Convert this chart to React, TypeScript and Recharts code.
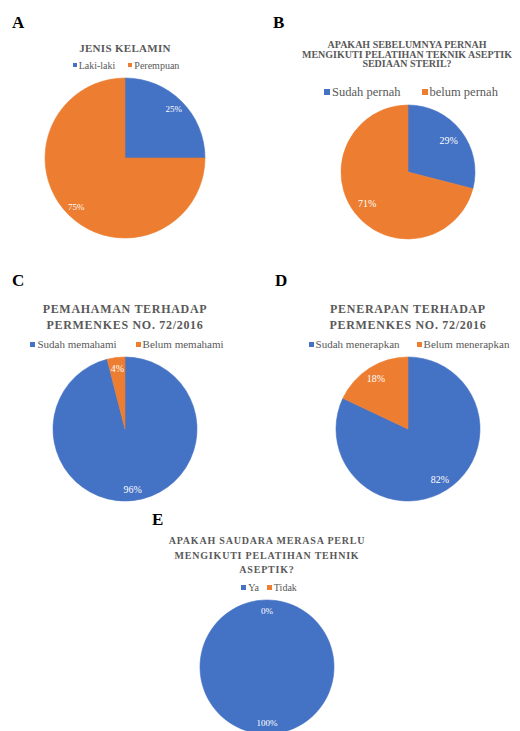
import React from 'react'
import { PieChart, Pie, Cell } from 'recharts'

// warna bawaan Excel
const BLUE = '#4472C4'
const ORANGE = '#ED7D31'
const GREY = '#595959'
const FONT = '"Liberation Serif", "Times New Roman", serif'

// A. Jenis kelamin
const genderLabels = ['Laki-laki', 'Perempuan']
const genderValues = [25, 75]

// B. Pelatihan teknik aseptik sebelumnya
const trainingLabels = ['Sudah pernah', 'belum pernah']
const trainingValues = [29, 71]

// C. Pemahaman Permenkes
const understandLabels = ['Sudah memahami', 'Belum memahami']
const understandValues = [96, 4]

// D. Penerapan Permenkes
const applyLabels = ['Sudah menerapkan', 'Belum menerapkan']
const applyValues = [82, 18]

// E. Perlu pelatihan
const needLabels = ['Ya', 'Tidak']
const needValues = [100, 0]

const RAD = Math.PI / 180

interface PanelProps {
    letter: string
    letterX: number
    letterY: number
    title: string[]
    titleX: number
    titleY: number
    titleSize: number
    titleSpacing: number
    titleLine: number
    names: string[]
    values: number[]
    legendX: number
    legendY: number
    legendSize: number
    legendGap: number
    swatch: number
    cx: number
    cy: number
    r: number
    labelRatio: number
    labelSize: number
}

function PiePanel(p: PanelProps) {
    const data = p.names.map((name, i) => ({ name, value: p.values[i] }))
    const box = p.r * 2 + 12

    const renderLabel = (props: any) => {
        const { cx, cy, midAngle, outerRadius, value } = props
        const d = outerRadius * p.labelRatio
        const x = cx + d * Math.cos(-midAngle * RAD)
        const y = cy + d * Math.sin(-midAngle * RAD)
        return (
            <text
                x={x}
                y={y}
                fill="#fff"
                textAnchor="middle"
                dominantBaseline="central"
                style={{ fontFamily: FONT, fontSize: p.labelSize }}
            >
                {value}%
            </text>
        )
    }

    return (
        <>
            <div style={{ position: 'absolute', left: p.letterX, top: p.letterY - 10, fontSize: 17, lineHeight: '20px', fontWeight: 700, color: '#000', fontFamily: FONT }}>
                {p.letter}
            </div>
            {p.title.map((line, i) => (
                <div
                    key={i}
                    style={{
                        position: 'absolute', left: p.titleX - 150, width: 300, textAlign: 'center',
                        top: p.titleY + i * p.titleLine - 7, lineHeight: '14px', whiteSpace: 'nowrap',
                        fontFamily: FONT, fontSize: p.titleSize, fontWeight: 700, letterSpacing: p.titleSpacing, color: GREY,
                    }}
                >
                    {line}
                </div>
            ))}
            <div
                style={{
                    position: 'absolute', left: p.legendX - 150, width: 300, top: p.legendY - 7, height: 14,
                    display: 'flex', justifyContent: 'center', alignItems: 'center', gap: p.legendGap,
                    fontFamily: FONT, fontSize: p.legendSize, color: GREY, whiteSpace: 'nowrap',
                }}
            >
                {p.names.map((name, i) => (
                    <span key={name} style={{ display: 'flex', alignItems: 'center', gap: 2 }}>
                        <span style={{ width: p.swatch, height: p.swatch, background: i === 0 ? BLUE : ORANGE, display: 'inline-block' }} />
                        {name}
                    </span>
                ))}
            </div>
            <div style={{ position: 'absolute', left: p.cx - box / 2, top: p.cy - box / 2 }}>
                <PieChart width={box} height={box} margin={{ top: 0, right: 0, bottom: 0, left: 0 }}>
                    <Pie
                        data={data}
                        dataKey="value"
                        nameKey="name"
                        cx="50%"
                        cy="50%"
                        outerRadius={p.r}
                        startAngle={90}
                        endAngle={-270}
                        label={renderLabel}
                        labelLine={false}
                        isAnimationActive={false}
                    >
                        {data.map((d, i) => (
                            // stroke in the fill colour so a full circle shows no radius seam
                            <Cell
                                key={d.name}
                                fill={i === 0 ? BLUE : ORANGE}
                                stroke={i === 0 ? BLUE : ORANGE}
                                strokeWidth={d.value === 0 ? 0 : 0.6}
                            />
                        ))}
                    </Pie>
                </PieChart>
            </div>
        </>
    )
}

export default function App() {
    return (
        <div style={{ position: 'absolute', left: 0, top: 0, width: 520, height: 731, background: '#fff', fontFamily: FONT, overflow: 'hidden' }}>
            <PiePanel
                letter="A" letterX={12} letterY={23}
                title={['JENIS KELAMIN']} titleX={125} titleY={48} titleSize={11} titleSpacing={0.3} titleLine={14}
                names={genderLabels} values={genderValues}
                legendX={126} legendY={65} legendSize={10} legendGap={13} swatch={4}
                cx={125} cy={158} r={80} labelRatio={0.86} labelSize={9}
            />
            <PiePanel
                letter="B" letterX={273} letterY={23}
                title={['APAKAH SEBELUMNYA PERNAH', 'MENGIKUTI PELATIHAN TEKNIK ASEPTIK', 'SEDIAAN STERIL?']} titleX={407} titleY={45} titleSize={10} titleSpacing={0} titleLine={9.7}
                names={trainingLabels} values={trainingValues}
                legendX={411} legendY={92} legendSize={12.5} legendGap={21} swatch={6}
                cx={408} cy={172} r={67} labelRatio={0.77} labelSize={10}
            />
            <PiePanel
                letter="C" letterX={12} letterY={281}
                title={['PEMAHAMAN TERHADAP', 'PERMENKES NO. 72/2016']} titleX={125} titleY={309} titleSize={12} titleSpacing={0.7} titleLine={16}
                names={understandLabels} values={understandValues}
                legendX={127} legendY={344} legendSize={11} legendGap={19} swatch={5}
                cx={125} cy={429} r={72} labelRatio={0.85} labelSize={10}
            />
            <PiePanel
                letter="D" letterX={275} letterY={281}
                title={['PENERAPAN TERHADAP', 'PERMENKES NO. 72/2016']} titleX={408} titleY={309} titleSize={12} titleSpacing={0.7} titleLine={16}
                names={applyLabels} values={applyValues}
                legendX={409} legendY={344} legendSize={11} legendGap={17} swatch={5}
                cx={408} cy={429} r={72} labelRatio={0.83} labelSize={10}
            />
            <PiePanel
                letter="E" letterX={152} letterY={520}
                title={['APAKAH SAUDARA MERASA PERLU', 'MENGIKUTI PELATIHAN TEHNIK', 'ASEPTIK?']} titleX={267} titleY={541} titleSize={10} titleSpacing={0.8} titleLine={14.5}
                names={needLabels} values={needValues}
                legendX={269} legendY={587} legendSize={10} legendGap={8} swatch={5}
                cx={267} cy={667} r={67} labelRatio={0.84} labelSize={9}
            />
        </div>
    )
}
